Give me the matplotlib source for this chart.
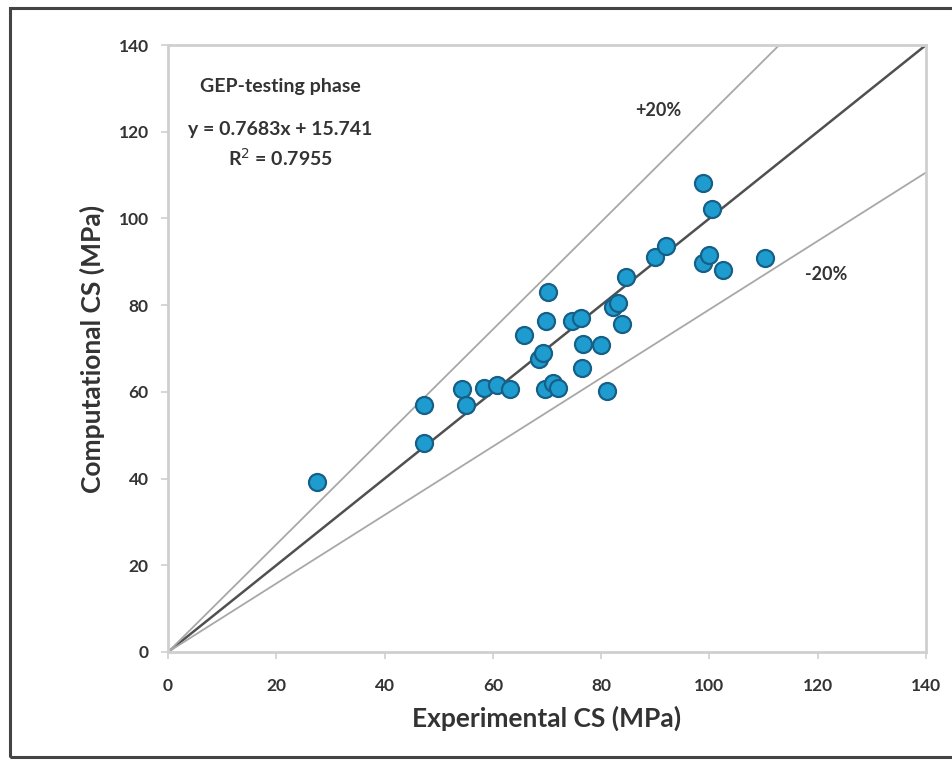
import numpy as np
import matplotlib.pyplot as plt
from matplotlib.patches import Rectangle

# --- data ---
exp_cs = [27.5, 47.3, 47.3, 54.3, 55.0, 58.4, 60.8, 63.2, 65.8, 70.2,
          69.8, 68.5, 69.3, 69.6, 71.1, 72.0, 74.6, 76.3, 76.7, 76.5,
          80.0, 81.1, 82.1, 83.2, 83.9, 84.6, 90.0, 92.0, 98.8, 100.5,
          98.8, 100.0, 102.5, 110.3]
comp_cs = [39.2, 57.0, 48.2, 60.7, 57.0, 60.9, 61.6, 60.7, 73.1, 83.0,
           76.3, 67.5, 69.0, 60.7, 62.0, 60.9, 76.3, 77.0, 71.0, 65.5,
           70.8, 60.2, 79.6, 80.5, 75.6, 86.5, 91.1, 93.6, 108.2, 102.2,
           89.7, 91.6, 88.1, 90.9]

ref_slopes = [1.0, 1.24, 0.79]   # 1:1 line, +20% and -20% bounds
ticks = [0, 20, 40, 60, 80, 100, 120, 140]

plt.rcParams['font.family'] = ['Lato', 'DejaVu Sans']
txt_col = "#333333"

fig = plt.figure(figsize=(9.52, 7.6), dpi=100)
ax = fig.add_axes([168/952, 108/760, 758/952, 607/760])

# outer frame of the picture
fig.patches.append(Rectangle((10/952, 3/760), 960/952, 749/760, transform=fig.transFigure,
                             fill=False, edgecolor="#444444", linewidth=2.2))

# reference lines
xx = np.array([0, 140])
ax.plot(xx, ref_slopes[0]*xx, color="#505050", lw=1.8, zorder=2)
ax.plot(xx, ref_slopes[1]*xx, color="#a8a8a8", lw=1.3, zorder=2)
ax.plot(xx, ref_slopes[2]*xx, color="#a8a8a8", lw=1.3, zorder=2)

ax.scatter(exp_cs, comp_cs, s=150, c="#1f9ccf", edgecolors="#165f86", linewidths=1.6, zorder=3)

ax.set_xlim(0, 140)
ax.set_ylim(0, 140)
ax.set_xticks(ticks)
ax.set_yticks(ticks)
for s in ax.spines.values():
    s.set_color("#cfcfcf")
    s.set_linewidth(2)
ax.tick_params(direction="out", length=5, width=1.2, color="#cfcfcf",
               labelsize=12.5, labelcolor=txt_col, pad=9)
ax.tick_params(axis="x", pad=14)
for lab in ax.get_xticklabels() + ax.get_yticklabels():
    lab.set_fontweight("bold")

ax.set_xlabel("Experimental CS (MPa)", fontsize=19, fontweight="bold", color=txt_col, labelpad=8)
ax.set_ylabel("Computational CS (MPa)", fontsize=19, fontweight="bold", color=txt_col, labelpad=10)

# annotations
ax.text(20.7, 130.5, "GEP-testing phase", ha="center", va="center", fontsize=14, fontweight="bold", color=txt_col)
ax.text(20.7, 120.4, "y = 0.7683x + 15.741", ha="center", va="center", fontsize=14, fontweight="bold", color=txt_col)
ax.text(20.7, 114.0, "R$^2$ = 0.7955", ha="center", va="center", fontsize=14, fontweight="bold", color=txt_col)
ax.text(90.5, 125, "+20%", ha="center", va="center", fontsize=13, fontweight="bold", color=txt_col)
ax.text(121.5, 87, "-20%", ha="center", va="center", fontsize=13, fontweight="bold", color=txt_col)

plt.savefig("out.png", dpi=100)
